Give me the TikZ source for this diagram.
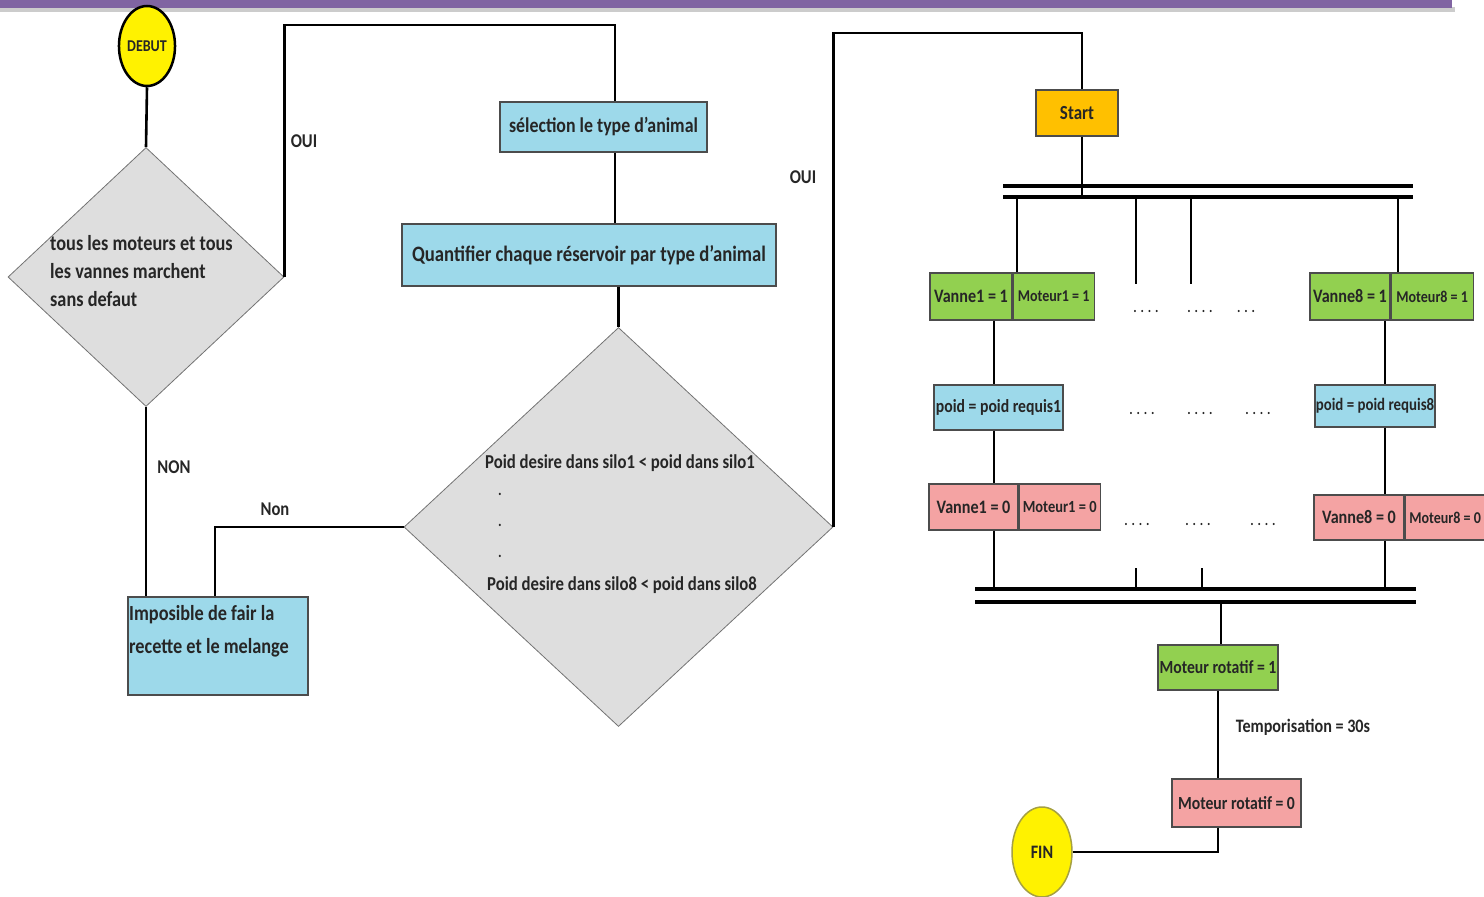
\documentclass[tikz,border=0pt]{standalone}
\usepackage{fontspec}
\setmainfont[FakeStretch=0.85]{Carlito}
\usetikzlibrary{shapes.geometric}
\definecolor{boxblue}{HTML}{9DD9EA}
\definecolor{boxgreen}{HTML}{92D050}
\definecolor{boxpink}{HTML}{F4A3A3}
\definecolor{boxorange}{HTML}{FFC000}
\definecolor{diagray}{HTML}{DEDEDE}
\definecolor{barpurple}{HTML}{8064A2}
\definecolor{txt}{HTML}{262626}
\newcommand{\fs}[2]{\fontsize{#1}{#2}\selectfont\bfseries}
\begin{document}
\begin{tikzpicture}[x=1pt,y=-1pt,
  conn/.style={line width=2.6pt},
  bar/.style={line width=4.5pt},
  boxst/.style={draw=black!70, line width=1.2pt, inner sep=0pt, text=txt},
  bluebox/.style={boxst, fill=boxblue},
  greenbox/.style={boxst, fill=boxgreen},
  pinkbox/.style={boxst, fill=boxpink},
  orangebox/.style={boxst, fill=boxorange},
  decision/.style={diamond, draw=black!55, line width=0.8pt, fill=diagray, inner sep=0pt},
  lbl/.style={text=txt, inner sep=0pt},
  dts/.style={text=black!85, inner sep=0pt, font=\fs{15}{16}}
]
\useasboundingbox (0,0) rectangle (1484,897);
% top bar
\fill[black!20] (0,7) rectangle (1455,12);
\fill[barpurple] (0,0) rectangle (1452,8);

% ---------- left part ----------
\node[ellipse, draw=black, line width=2.5pt, fill=yellow, minimum width=54pt, minimum height=80pt, inner sep=0pt, font=\fs{16.5}{18}, text=txt] (debut) at (147,46) {DEBUT};
\node[decision, minimum width=276pt, minimum height=259pt] (d1) at (146,277) {};
\node[lbl, align=left, anchor=north west, font=\fs{21.5}{28}] (d1t) at (50,235) {tous les moteurs et tous\\les vannes marchent\\sans defaut};

\node[bluebox, minimum width=207pt, minimum height=50pt, font=\fs{21}{24}] (sel) at (603.5,127) {sélection le type d'animal};
\node[bluebox, minimum width=374pt, minimum height=62pt, font=\fs{22}{24}] (quant) at (589,255) {Quantifier chaque réservoir par type d'animal};

\node[decision, minimum width=429pt, minimum height=399pt] (d2) at (618.5,527) {};
\node[lbl, font=\fs{19.7}{20}] (d2a) at (620,463) {Poid desire dans silo1 < poid dans silo1};
\node[lbl, font=\fs{19.7}{20}] (d2b) at (622,585) {Poid desire dans silo8 < poid dans silo8};
\node[lbl, font=\fs{16}{16}] (d2d1) at (500,494) {.};
\node[lbl, font=\fs{16}{16}] (d2d2) at (500,525) {.};
\node[lbl, font=\fs{16}{16}] (d2d3) at (500,556) {.};

\node[bluebox, minimum width=180pt, minimum height=98pt] (imp) at (218,646) {};
\node[lbl, align=left, anchor=north west, font=\fs{21.5}{33}] (impt) at (129,605) {Imposible de fair la\\recette et le melange};

\coordinate (c1) at (615,25);
\coordinate (c2) at (1082,33);
\coordinate (c3) at (215,527);

\draw[conn] (debut.south) -- (d1.north);
\draw[conn] (d1.east) |- (c1) -- (c1 |- sel.north);
\draw[conn] (c1 |- sel.south) -- (c1 |- quant.north);
\draw[conn] (d2.north |- quant.south) -- (d2.north);
\draw[conn] (d2.east) |- (c2) -- (c2 |- 0,90);
\draw[conn] (d2.west) -| (c3 |- imp.north);
\draw[conn] (d1.south) -- (d1.south |- imp.north);

\node[lbl, font=\fs{19.5}{20}] (oui1) at (304,141) {OUI};
\node[lbl, font=\fs{19.5}{20}] (oui2) at (803,177) {OUI};
\node[lbl, font=\fs{19.5}{20}] (non1) at (174,467) {NON};
\node[lbl, font=\fs{19.5}{20}] (non2) at (275,509) {Non};

% ---------- right part ----------
\node[orangebox, minimum width=82pt, minimum height=46pt, font=\fs{20}{22}] (start) at (1077,113) {Start};

\coordinate (b1L) at (1003,186); \coordinate (b1R) at (1413,186);
\coordinate (b2L) at (1003,197); \coordinate (b2R) at (1413,197);
\draw[bar] (b1L) -- (b1R);
\draw[bar] (b2L) -- (b2R);
\draw[conn] (c2 |- start.south) -- (c2 |- b2L);

\node[greenbox, minimum width=82pt, minimum height=47pt, font=\fs{19}{20}] (v1on) at (971,296.5) {Vanne1 = 1};
\node[greenbox, minimum width=81pt, minimum height=47pt, font=\fs{16.5}{18}, anchor=west] (m1on) at (v1on.east) {Moteur1 = 1};
\node[greenbox, minimum width=80pt, minimum height=47pt, font=\fs{19}{20}] (v8on) at (1350,296.5) {Vanne8 = 1};
\node[greenbox, minimum width=82pt, minimum height=47pt, font=\fs{16.5}{18}, anchor=west] (m8on) at (v8on.east) {Moteur8 = 1};

\coordinate (br1) at (1017,197);
\coordinate (br2) at (1136,197);
\coordinate (br3) at (1191,197);
\coordinate (br4) at (1398,197);
\coordinate (br2e) at (1136,284);
\coordinate (br3e) at (1191,284);
\draw[conn] (br1) -- (br1 |- v1on.north);
\draw[conn] (br2) -- (br2e);
\draw[conn] (br3) -- (br3e);
\draw[conn] (br4) -- (br4 |- v8on.north);

\node[dts] (dA1) at (1146,311) {. . . .};
\node[dts] (dA2) at (1200,311) {. . . .};
\node[dts] (dA3) at (1246,311) {. . .};

\node[bluebox, minimum width=129pt, minimum height=45pt, font=\fs{18.5}{20}] (p1) at (998.5,407.5) {poid = poid requis1};
\node[bluebox, minimum width=120pt, minimum height=42pt, font=\fs{17.5}{20}] (p8) at (1375,406) {poid = poid requis8};

\node[dts] (dB1) at (1142,413) {. . . .};
\node[dts] (dB2) at (1200,413) {. . . .};
\node[dts] (dB3) at (1258,413) {. . . .};

\coordinate (x1) at (994,0);
\coordinate (x8) at (1385,0);
\draw[conn] (x1 |- v1on.south) -- (x1 |- p1.north);
\draw[conn] (x8 |- v8on.south) -- (x8 |- p8.north);

\node[pinkbox, minimum width=89pt, minimum height=46pt, font=\fs{19}{20}] (v1off) at (973.5,507) {Vanne1 = 0};
\node[pinkbox, minimum width=81pt, minimum height=46pt, font=\fs{17}{18}, anchor=west] (m1off) at (v1off.east) {Moteur1 = 0};
\node[pinkbox, minimum width=90pt, minimum height=45pt, font=\fs{19}{20}] (v8off) at (1359,517.5) {Vanne8 = 0};
\node[pinkbox, minimum width=80pt, minimum height=45pt, font=\fs{16.5}{18}, anchor=west] (m8off) at (v8off.east) {Moteur8 = 0};

\draw[conn] (x1 |- p1.south) -- (x1 |- v1off.north);
\draw[conn] (x8 |- p8.south) -- (x8 |- v8off.north);

\node[dts] (dC1) at (1137,524) {. . . .};
\node[dts] (dC2) at (1198,524) {. . . .};
\node[dts] (dC3) at (1263,524) {. . . .};

\coordinate (b3L) at (975,589); \coordinate (b3R) at (1416,589);
\coordinate (b4L) at (975,602); \coordinate (b4R) at (1416,602);
\draw[bar] (b3L) -- (b3R);
\draw[bar] (b4L) -- (b4R);

\coordinate (s1) at (1136,568);
\coordinate (s2) at (1202,568);
\draw[conn] (x1 |- v1off.south) -- (x1 |- b3L);
\draw[conn] (x8 |- v8off.south) -- (x8 |- b3L);
\draw[conn] (s1) -- (s1 |- b3L);
\draw[conn] (s2) -- (s2 |- b3L);

\node[greenbox, minimum width=120pt, minimum height=45pt, font=\fs{18.5}{20}] (mr1) at (1218,667.5) {Moteur rotatif = 1};
\node[pinkbox, minimum width=129pt, minimum height=48pt, font=\fs{18.5}{20}] (mr0) at (1236.5,803) {Moteur rotatif = 0};
\coordinate (x2) at (1221,0);
\coordinate (x3) at (1218,0);
\draw[conn] (x2 |- b4L) -- (x2 |- mr1.north);
\draw[conn] (x3 |- mr1.south) -- (x3 |- mr0.north);
\node[lbl, font=\fs{19}{20}] (tempo) at (1303,727) {Temporisation = 30s};

\node[ellipse, draw=yellow!60!black, line width=1.5pt, fill=yellow, minimum width=60pt, minimum height=90pt, inner sep=0pt, font=\fs{19}{20}, text=txt] (fin) at (1042,852) {FIN};
\draw[conn] (x3 |- mr0.south) |- (fin.east);
\end{tikzpicture}
\end{document}
